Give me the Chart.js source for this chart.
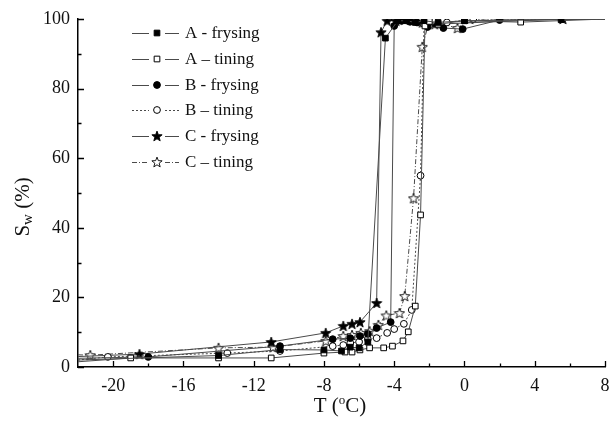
<!DOCTYPE html>
<html>
<head>
<meta charset="utf-8">
<script src="https://cdn.jsdelivr.net/npm/chart.js@4.4.1/dist/chart.umd.min.js"></script>
<style>
  html, body { margin: 0; padding: 0; background: #fff; }
  #wrap { width: 610px; height: 422px; }
</style>
</head>
<body>
<div id="wrap"><canvas id="myChart" width="610" height="422"></canvas></div>
<script>
// series labels (legend order)
const seriesNames = ['A - frysing', 'A \u2013 tining', 'B - frysing', 'B \u2013 tining', 'C - frysing', 'C \u2013 tining']

// T (oC) and Sw (%) per series
const tempAFrys = [-22, -14, -10.5, -8, -7, -6.5, -6, -5.5, -4.5, -3.8, -3.3, -2.8, -2.3, -1.5, 0, 5.5, 8]
const swAFrys   = [2.0, 3.3, 5.0, 4.9, 4.6, 5.7, 5.5, 7.2, 94.5, 99.5, 99.5, 99, 99.5, 99, 99.5, 99.8, 100]

const tempATin = [-22, -19, -14, -11, -8, -6.8, -6.4, -5.95, -5.4, -4.6, -4.1, -3.5, -3.2, -2.8, -2.5, -2.25, -2.0, -1.5, 0, 3.2, 8]
const swATin   = [1.5, 2.6, 2.6, 2.6, 4.0, 4.3, 4.3, 4.9, 5.5, 5.5, 6.0, 7.5, 10.1, 17.5, 43.7, 98, 99.3, 98.5, 99.5, 99.1, 100]

const tempBFrys = [-22, -18, -10.5, -7.5, -6.5, -5.95, -5.5, -5.0, -4.2, -4.0, -3.6, -3.1, -2.7, -2.1, -1.2, -0.1, 2.0, 8]
const swBFrys   = [2.5, 2.9, 6.0, 8.0, 8.3, 8.9, 9.5, 11.2, 12.9, 98, 99.5, 99.2, 99, 97.7, 97.4, 97.1, 99.7, 100]

const tempBTin = [-22, -20.3, -13.5, -10.5, -7.5, -6.9, -6.5, -6.0, -5.5, -5.0, -4.4, -4.0, -3.45, -3.0, -2.5, -2.3, -1.8, -1.0, 0.5, 8]
const swBTin   = [2.0, 2.9, 4.0, 4.6, 6.0, 6.3, 6.9, 7.2, 8.0, 8.3, 9.8, 10.9, 12.4, 16.4, 55, 98.5, 99.5, 99, 100, 100]

const tempCFrys = [-22, -18.5, -11, -7.9, -6.9, -6.4, -5.95, -5.0, -4.75, -4.4, -3.9, -3.4, -2.4, -1.7, 5.6, 8]
const swCFrys   = [3.0, 3.7, 7.2, 9.8, 11.8, 12.4, 12.9, 18.4, 96.2, 99.5, 99.5, 99.8, 99, 98.5, 100, 100]

const tempCTin = [-22, -21.3, -14, -10.9, -7.9, -6.9, -6.4, -5.9, -5.4, -4.9, -4.45, -3.7, -3.4, -2.9, -2.4, -2.0, -0.4, 0.3, 8]
const swCTin   = [3.5, 3.4, 5.5, 5.7, 7.5, 8.9, 9.2, 9.8, 10.3, 12.1, 14.8, 15.5, 20.4, 48.5, 92, 99.5, 97.4, 100, 100]

const xTicks = [-20, -16, -12, -8, -4, 0, 4, 8]
const yTicks = [0, 20, 40, 60, 80, 100]

const serif = "'Liberation Serif', 'DejaVu Serif', serif"

function makeStar(filled) {
    const c = document.createElement('canvas')
    c.width = 12
    c.height = 12
    const g = c.getContext('2d')
    g.beginPath()
    for (let i = 0; i < 10; i++) {
        const r = i % 2 === 0 ? 5.4 : 2.3
        const a = -Math.PI / 2 + i * Math.PI / 5
        const px = 6 + r * Math.cos(a)
        const py = 6.5 + r * Math.sin(a)
        if (i === 0) g.moveTo(px, py)
        else g.lineTo(px, py)
    }
    g.closePath()
    g.fillStyle = filled ? '#000' : '#fff'
    g.fill()
    g.lineWidth = 0.9
    g.strokeStyle = '#000'
    g.stroke()
    return c
}

const starFull = makeStar(true)
const starOpen = makeStar(false)

const toPoints = (xs, ys) => xs.map((v, i) => ({ x: v, y: ys[i] }))

const makeSet = (i, xs, ys, style, radius, fill, dash) => ({
    label: seriesNames[i],
    data: toPoints(xs, ys),
    showLine: true,
    borderColor: '#4a4a4a',
    borderWidth: 1,
    borderDash: dash,
    pointStyle: style,
    pointBackgroundColor: fill,
    pointBorderColor: '#000',
    pointBorderWidth: 1,
    pointRadius: ctx => (ctx.raw && (ctx.raw.x <= -22 || ctx.raw.x >= 8)) ? 0 : radius,
    pointHoverRadius: radius,
    markerRadius: radius
})

const datasets = [
    makeSet(0, tempAFrys, swAFrys, 'rect', 4, '#000', []),
    makeSet(1, tempATin, swATin, 'rect', 4, '#fff', []),
    makeSet(2, tempBFrys, swBFrys, 'circle', 3.4, '#000', []),
    makeSet(3, tempBTin, swBTin, 'circle', 3.4, '#fff', [2, 2]),
    makeSet(4, tempCFrys, swCFrys, starFull, 5, '#000', []),
    makeSet(5, tempCTin, swCTin, starOpen, 5, '#fff', [5, 2, 1, 2])
]

const decor = {
    id: 'decor',
    afterDraw(chart) {
        const { ctx, chartArea: a, scales: { x, y } } = chart
        ctx.save()

        // inward ticks
        ctx.strokeStyle = '#000'
        ctx.lineWidth = 1.3
        ctx.setLineDash([])
        ctx.beginPath()
        for (let v = -20; v <= 8; v += 2) {
            const px = Math.round(x.getPixelForValue(v)) + 0.5
            const len = v % 4 === 0 ? 6 : 3.5
            ctx.moveTo(px, a.bottom)
            ctx.lineTo(px, a.bottom - len)
        }
        for (let v = 0; v <= 100; v += 10) {
            const py = Math.round(y.getPixelForValue(v)) + 0.5
            const len = v % 20 === 0 ? 6 : 3.5
            ctx.moveTo(a.left, py)
            ctx.lineTo(a.left + len, py)
        }
        ctx.stroke()

        // legend
        const rows = [33, 59, 85, 110, 136, 162]
        chart.data.datasets.forEach((ds, i) => {
            const ly = rows[i]
            ctx.strokeStyle = ds.borderColor
            ctx.lineWidth = 1
            ctx.setLineDash(ds.borderDash)
            ctx.beginPath()
            ctx.moveTo(132, ly + 0.5)
            ctx.lineTo(149, ly + 0.5)
            ctx.moveTo(165, ly + 0.5)
            ctx.lineTo(179, ly + 0.5)
            ctx.stroke()
            ctx.setLineDash([])
            ctx.fillStyle = ds.pointBackgroundColor
            ctx.strokeStyle = '#000'
            Chart.helpers.drawPoint(ctx, {
                pointStyle: ds.pointStyle,
                radius: ds.markerRadius,
                rotation: 0,
                borderWidth: 1
            }, 157, ly)
            ctx.fillStyle = '#111'
            ctx.font = '17px ' + serif
            ctx.textAlign = 'left'
            ctx.textBaseline = 'middle'
            ctx.fillText(ds.label, 185, ly + 1)
        })

        // x title: T (oC)
        ctx.fillStyle = '#111'
        ctx.textBaseline = 'alphabetic'
        ctx.textAlign = 'left'
        const big = '21px ' + serif
        const small = '13px ' + serif
        ctx.font = big
        const w1 = ctx.measureText('T (').width
        const w3 = ctx.measureText('C)').width
        ctx.font = small
        const w2 = ctx.measureText('o').width
        let tx = 340 - (w1 + w2 + w3) / 2
        const base = 412
        ctx.font = big
        ctx.fillText('T (', tx, base)
        ctx.font = small
        ctx.fillText('o', tx + w1, base - 8)
        ctx.font = big
        ctx.fillText('C)', tx + w1 + w2, base)

        // y title: Sw (%)
        ctx.translate(29, 207)
        ctx.rotate(-Math.PI / 2)
        ctx.font = big
        const s1 = ctx.measureText('S').width
        const s3 = ctx.measureText(' (%)').width
        ctx.font = '15px ' + serif
        const s2 = ctx.measureText('w').width
        let sx = -(s1 + s2 + s3) / 2
        ctx.font = big
        ctx.fillText('S', sx, 0)
        ctx.font = '15px ' + serif
        ctx.fillText('w', sx + s1, 3)
        ctx.font = big
        ctx.fillText(' (%)', sx + s1 + s2, 0)

        ctx.restore()
    }
}

new Chart(document.getElementById('myChart'), {
    type: 'scatter',
    data: { datasets: datasets },
    options: {
        responsive: false,
        animation: false,
        layout: { padding: { top: 19, right: 5, left: 0, bottom: 0 } },
        plugins: {
            legend: { display: false },
            tooltip: { enabled: false }
        },
        scales: {
            x: {
                type: 'linear',
                min: -22,
                max: 8,
                afterBuildTicks: s => { s.ticks = xTicks.map(v => ({ value: v })) },
                afterFit: s => { s.height = 55; s.paddingRight = 0; s.paddingLeft = 0 },
                grid: { display: false, drawTicks: false },
                border: { display: true, color: '#000', width: 1.5 },
                ticks: {
                    padding: 8,
                    maxRotation: 0,
                    autoSkip: false,
                    color: '#111',
                    font: { family: serif, size: 18 }
                }
            },
            y: {
                type: 'linear',
                min: 0,
                max: 100,
                afterBuildTicks: s => { s.ticks = yTicks.map(v => ({ value: v })) },
                afterFit: s => { s.width = 78 },
                grid: { display: false, drawTicks: false },
                border: { display: true, color: '#000', width: 1.5 },
                ticks: {
                    padding: 8,
                    color: '#111',
                    font: { family: serif, size: 18 }
                }
            }
        }
    },
    plugins: [decor]
})
</script>
</body>
</html>
